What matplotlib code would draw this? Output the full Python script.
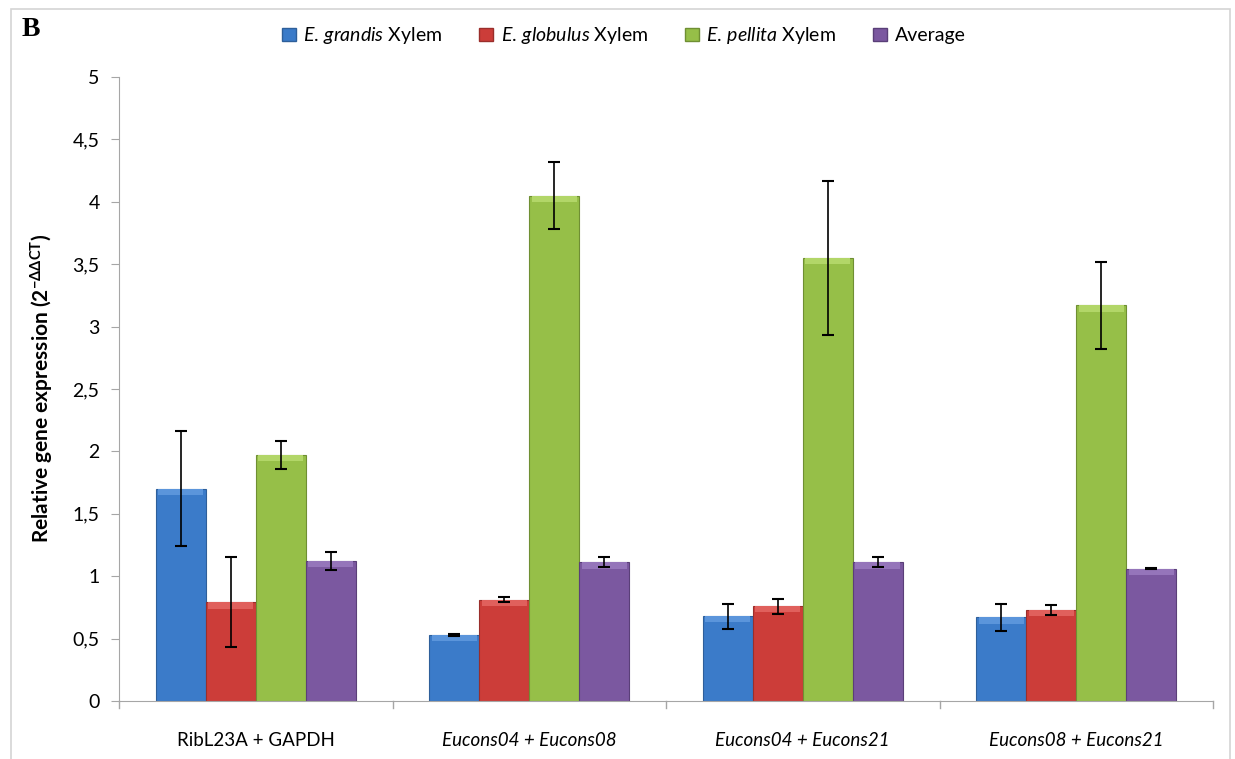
import matplotlib
matplotlib.use("Agg")
import matplotlib.pyplot as plt
import numpy as np
from matplotlib.patches import Rectangle, Patch

plt.rcParams['font.family'] = ['Lato', 'DejaVu Sans']
plt.rcParams['mathtext.fontset'] = 'custom'
plt.rcParams['mathtext.rm'] = 'Lato'
plt.rcParams['mathtext.it'] = 'Lato:italic'
plt.rcParams['mathtext.bf'] = 'Lato:bold'

# datos
categories = ["RibL23A + GAPDH", "Eucons04 + Eucons08", "Eucons04 + Eucons21", "Eucons08 + Eucons21"]
series_names = [r"$\mathit{E.\,grandis}$ Xylem", r"$\mathit{E.\,globulus}$ Xylem",
                r"$\mathit{E.\,pellita}$ Xylem", "Average"]
grandis = [1.70, 0.53, 0.68, 0.67]
globulus = [0.79, 0.81, 0.76, 0.73]
pellita = [1.97, 4.05, 3.55, 3.17]
average = [1.12, 1.11, 1.11, 1.06]
grandis_err = [0.46, 0.01, 0.10, 0.11]
globulus_err = [0.36, 0.02, 0.06, 0.04]
pellita_err = [0.11, 0.27, 0.62, 0.35]
average_err = [0.07, 0.04, 0.04, 0.005]

values = [grandis, globulus, pellita, average]
errors = [grandis_err, globulus_err, pellita_err, average_err]
colors = ['#3B7BC9', '#CC3D39', '#96BF48', '#7B58A0']
tops = ['#5B95DB', '#E0605C', '#B2D668', '#9575BA']
edges = ['#2E5F9A', '#9A2E2B', '#6F8F33', '#5A3F78']
ytick_labels = ["0", "0,5", "1", "1,5", "2", "2,5", "3", "3,5", "4", "4,5", "5"]

fig = plt.figure(figsize=(12.35, 7.59), dpi=100)
ax = fig.add_axes([0.0964, 0.0764, 0.8858, 0.8222])

# marco gris de la figura
fig.patches.append(Rectangle((11 / 1235, -0.01), 1219 / 1235, 1 - 9 / 759 + 0.01,
                             transform=fig.transFigure, fill=False,
                             edgecolor='#D4D4D4', linewidth=1.2))

x = np.arange(len(categories))
w = 0.183
for i, (vals, errs) in enumerate(zip(values, errors)):
    pos = x + (i - 1.5) * w
    ax.bar(pos, vals, width=w, color=colors[i], edgecolor=edges[i], linewidth=0.8,
           label=series_names[i], zorder=2)
    # franja clara arriba (bisel)
    ax.bar(pos, 0.05, bottom=np.array(vals) - 0.05, width=w * 0.9, color=tops[i],
           linewidth=0, zorder=2.1)
    ax.errorbar(pos, vals, yerr=errs, fmt='none', ecolor='black', elinewidth=1.2,
                capsize=4, capthick=1.5, zorder=3)

ax.set_xlim(-0.5, len(categories) - 0.5)
ax.set_ylim(0, 5)
ax.set_yticks(np.arange(0, 5.01, 0.5))
ax.set_yticklabels(ytick_labels, fontsize=14)

ax.set_xticks(x)
ax.set_xticklabels(categories, fontsize=13.5)
for i, lbl in enumerate(ax.get_xticklabels()):
    if i > 0:
        lbl.set_style('italic')
ax.tick_params(axis='x', length=0, pad=22)
# marcas entre categorias
for b in np.arange(-0.5, len(categories), 1):
    ax.plot([b, b], [0, -0.055], color='#A6A6A6', linewidth=1, clip_on=False)

ax.tick_params(axis='y', length=6, color='#A6A6A6', pad=8)
for s in ['top', 'right']:
    ax.spines[s].set_visible(False)
ax.spines['left'].set_color('#A6A6A6')
ax.spines['bottom'].set_color('#A6A6A6')

ax.set_ylabel(r"Relative gene expression (2$^{\mathbf{-\Delta\Delta CT}}$)",
              fontsize=15, fontweight='bold', labelpad=12)

handles = [Patch(facecolor=colors[i], edgecolor=edges[i]) for i in range(4)]
fig.legend(handles, series_names, loc='center', bbox_to_anchor=(0.505, 0.953), ncol=4,
           frameon=False, fontsize=14, handlelength=0.7, handleheight=0.7,
           handletextpad=0.4, columnspacing=1.9)

fig.text(22 / 1235, 1 - 30 / 759, "B", fontsize=20, fontweight='bold',
         family='Liberation Serif', va='center')

fig.savefig("out.png", dpi=100)
